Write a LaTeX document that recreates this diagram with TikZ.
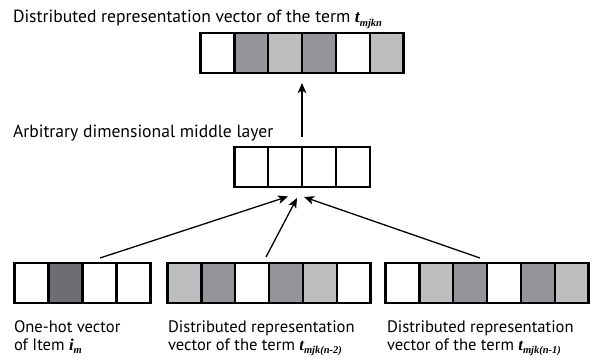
\documentclass[tikz,border=0pt]{standalone}
\usepackage{fontspec}
\setmainfont{PT Sans}
\newfontfamily\tfont{Liberation Serif}
\usetikzlibrary{arrows.meta}
\definecolor{gL}{HTML}{BCBEC0}
\definecolor{gM}{HTML}{939598}
\definecolor{gD}{HTML}{6D6E71}
\newcommand\tterm[2]{{\tfont\bfseries\itshape #1\raisebox{-0.4ex}{\fontsize{10.5pt}{10.5pt}\selectfont #2}}}
\tikzset{
  cell/.style={draw=black, line width=2.6pt, minimum width=33.9pt, minimum height=40pt, inner sep=0pt, outer sep=0pt},
  vecbox/.style={inner sep=0pt, outer sep=0pt, minimum height=40pt},
  arr/.style={line width=1.3pt, -{Stealth[length=10pt,width=8.5pt,inset=2.5pt]}},
  lbl/.style={font=\fontsize{17.6pt}{18pt}\selectfont, inner sep=0pt, outer sep=0pt, align=left},
  blbl/.style={lbl, font=\fontsize{16.6pt}{18pt}\selectfont}
}
\begin{document}
\begin{tikzpicture}[x=1pt,y=-1pt]
\useasboundingbox[fill=white] (0,0) rectangle (593,358);
% vectors (containers)
\node[vecbox, minimum width=6*33.9pt] (top) at (302,53) {};
\node[vecbox, minimum width=4*33.9pt] (mid) at (302,167) {};
\node[vecbox, minimum width=4*33.9pt] (b1) at (82.5,283) {};
\node[vecbox, minimum width=6*33.9pt] (b2) at (269,283) {};
\node[vecbox, minimum width=6*33.9pt] (b3) at (487,283) {};
% cells
\foreach \c [count=\i] in {white,gM,gL,gM,white,gL}
  \node[cell, fill=\c] (top\i) at ([xshift={(\i-0.5)*33.9pt}]top.west) {};
\foreach \c [count=\i] in {white,white,white,white}
  \node[cell, fill=\c] (mid\i) at ([xshift={(\i-0.5)*33.9pt}]mid.west) {};
\foreach \c [count=\i] in {white,gD,white,white}
  \node[cell, fill=\c] (bA\i) at ([xshift={(\i-0.5)*33.9pt}]b1.west) {};
\foreach \c [count=\i] in {gL,gM,white,gM,gL,white}
  \node[cell, fill=\c] (bB\i) at ([xshift={(\i-0.5)*33.9pt}]b2.west) {};
\foreach \c [count=\i] in {white,gL,gM,white,gM,gL}
  \node[cell, fill=\c] (bC\i) at ([xshift={(\i-0.5)*33.9pt}]b3.west) {};
% arrows
\draw[arr] ([yshift=10pt]mid.north) -- ([yshift=-10pt]top.south);
\draw[arr] ([xshift=17.5pt,yshift=5pt]b1.north) -- ([xshift=-14pt,yshift=-9.5pt]mid.south);
\draw[arr] ([xshift=-3pt,yshift=6pt]b2.north) -- ([xshift=-5pt,yshift=-11pt]mid.south);
\draw[arr] ([xshift=-7pt,yshift=5pt]b3.north) -- ([xshift=2pt,yshift=-10pt]mid.south);
% labels
\node[lbl, anchor=base west] (ttop) at (13,23) {Distributed representation vector of the term \tterm{t}{mjkn}};
\node[lbl, anchor=base west] (tmid) at (13,138) {Arbitrary dimensional middle layer};
\node[blbl, anchor=base west] (tb1) at (14,350) {One-hot vector\\of Item \tterm{i}{m}};
\node[blbl, anchor=base west] (tb2) at (168,350) {Distributed representation\\vector of the term \tterm{t}{mjk(n-2)}};
\node[blbl, anchor=base west] (tb3) at (387,350) {Distributed representation\\vector of the term \tterm{t}{mjk(n-1)}};
\end{tikzpicture}
\end{document}
